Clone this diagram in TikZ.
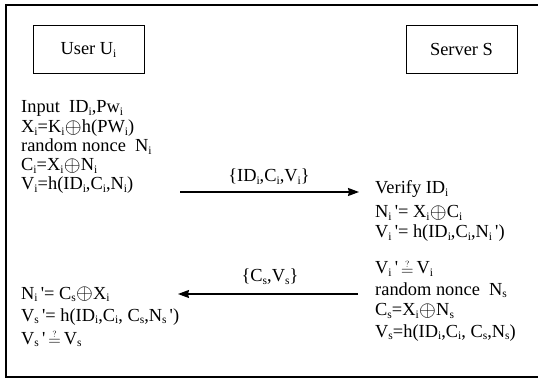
\documentclass[tikz,border=0pt]{standalone}
\usepackage{fontspec}
\usepackage{textcomp}
\usepackage{graphicx}
\setmainfont{Liberation Serif}
\usetikzlibrary{arrows.meta}
\newcommand\sbs[1]{\raisebox{-0.25ex}{\fontsize{11.5}{11.5}\selectfont #1}}
\newcommand\xor{\hspace{0.3pt}\raisebox{-0.5pt}{\scalebox{1.25}{$\oplus$}}\hspace{0.3pt}}
\newcommand\pr{\textquotesingle}
\newcommand\qeq{\,\raisebox{-1.5pt}{$\stackrel{\scriptscriptstyle ?}{=}$}\,}
\begin{document}
\begin{tikzpicture}[x=1pt,y=-1pt,
  txt/.style={inner sep=0pt,anchor=base west,font=\fontsize{18.4}{20}\selectfont},
  lbl/.style={inner sep=0pt,anchor=base,font=\fontsize{18.4}{20}\selectfont},
  party/.style={draw,line width=1pt,minimum width=111pt,minimum height=48pt,inner sep=0pt,font=\fontsize{18.4}{20}\selectfont},
  msg/.style={line width=1.3pt,-{Stealth[length=11pt,width=8pt,inset=1pt]}}]
\useasboundingbox (0,0) rectangle (538,379);
\draw[line width=1.3pt] (548,5) -- (6,5) -- (6,377) -- (548,377);
\node[party] (user) at (88.5,50) {User U\sbs{i}};
\node[party] (server) at (461.5,50) {Server S};
% user side
\node[txt] (u1) at (21,113) {Input\ \ ID\sbs{i},Pw\sbs{i}};
\node[txt] (u2) at (21,133) {X\sbs{i}=K\sbs{i}\xor h(PW\sbs{i})};
\node[txt] (u3) at (21,152) {random nonce\ \ N\sbs{i}};
\node[txt] (u4) at (21,171) {C\sbs{i}=X\sbs{i}\xor N\sbs{i}};
\node[txt] (u5) at (21,190) {V\sbs{i}=h(ID\sbs{i},C\sbs{i},N\sbs{i})};
% server side
\node[txt] (s1) at (375,194) {Verify ID\sbs{i}};
\node[txt] (s2) at (375,218) {N\sbs{i}\,\pr= X\sbs{i}\xor C\sbs{i}};
\node[txt] (s3) at (375,238) {V\sbs{i}\,\pr= h(ID\sbs{i},C\sbs{i},N\sbs{i}\,\pr)};
\node[txt] (s4) at (375,274) {V\sbs{i}\,\pr\qeq V\sbs{i}};
\node[txt] (s5) at (375,295) {random nonce\ \ N\sbs{s}};
\node[txt] (s6) at (375,316) {C\sbs{s}=X\sbs{i}\xor N\sbs{s}};
\node[txt] (s7) at (375,337) {V\sbs{s}=h(ID\sbs{i},C\sbs{i}, C\sbs{s},N\sbs{s})};
% user verification
\node[txt] (r1) at (21,299) {N\sbs{i}\,\pr= C\sbs{s}\xor X\sbs{i}};
\node[txt] (r2) at (21,321) {V\sbs{s}\,\pr= h(ID\sbs{i},C\sbs{i}, C\sbs{s},N\sbs{s}\,\pr)};
\node[txt] (r3) at (21,344) {V\sbs{s}\,\pr\qeq V\sbs{s}};
% messages
\coordinate (m1a) at (180,192);
\coordinate (m1b) at (359,192);
\coordinate (m2a) at (358,294);
\coordinate (m2b) at (178,294);
\draw[msg] (m1a) -- (m1b);
\draw[msg] (m2a) -- (m2b);
\node[lbl] (l1) at (269,182) {\{ID\sbs{i},C\sbs{i},V\sbs{i}\}};
\node[lbl] (l2) at (270,282) {\{C\sbs{s},V\sbs{s}\}};
\end{tikzpicture}
\end{document}
